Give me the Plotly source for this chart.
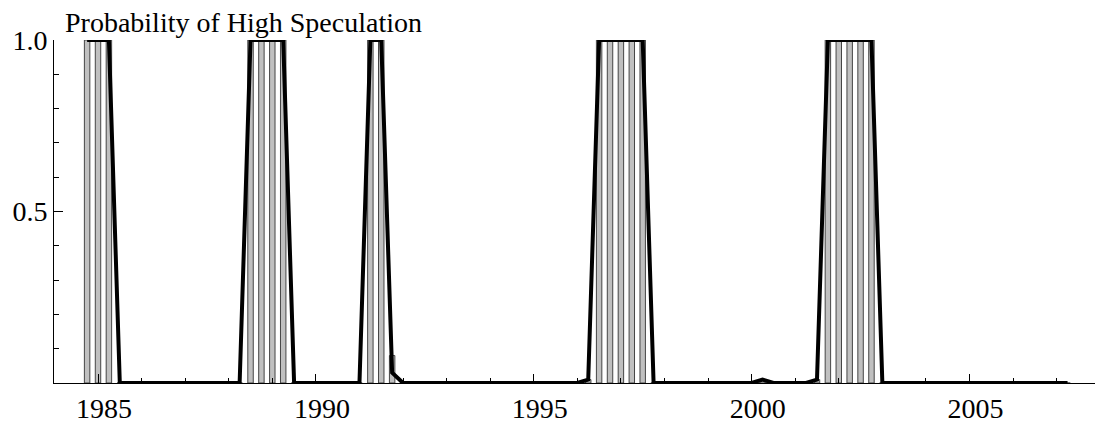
import plotly.graph_objects as go

# Quarterly dates (decimal years), 1984.75 .. 2007.25
quarters = [1984.75 + 0.25 * i for i in range(91)]

# Probability of the high-speculation regime (line)
prob_line = [
    1, 1, 1,                                  # 1984.75 - 1985.25
    0, 0, 0, 0, 0, 0, 0, 0, 0, 0, 0, 0,        # 1985.5 - 1988.25
    1, 1, 1, 1,                               # 1988.5 - 1989.25
    0, 0, 0, 0, 0, 0, 0,                      # 1989.5 - 1991.0
    1, 1, 0.03,                               # 1991.25 - 1991.75
    0, 0, 0, 0, 0, 0, 0, 0, 0, 0, 0, 0, 0, 0, 0, 0, 0,  # 1992.0 - 1996.0
    0.01,                                     # 1996.25
    1, 1, 1, 1, 1,                            # 1996.5 - 1997.5
    0, 0, 0, 0, 0, 0, 0, 0, 0, 0,             # 1997.75 - 2000.0
    0.01,                                     # 2000.25
    0, 0, 0, 0,                               # 2000.5 - 2001.25
    0.01,                                     # 2001.5
    1, 1, 1, 1, 1,                            # 2001.75 - 2002.75
    0, 0, 0, 0, 0, 0, 0, 0, 0, 0, 0, 0, 0, 0, 0, 0, 0, 0,  # 2003.0 - 2007.25
]

# Bar heights (same quarters)
prob_bar = [
    1, 1, 1,
    0, 0, 0, 0, 0, 0, 0, 0, 0, 0, 0, 0,
    1, 1, 1, 1,
    0, 0, 0, 0, 0, 0, 0,
    1, 1, 0.08,
    0, 0, 0, 0, 0, 0, 0, 0, 0, 0, 0, 0, 0, 0, 0, 0, 0,
    0.01,
    1, 1, 1, 1, 1,
    0, 0, 0, 0, 0, 0, 0, 0, 0, 0,
    0.01,
    0, 0, 0, 0,
    0.01,
    1, 1, 1, 1, 1,
    0, 0, 0, 0, 0, 0, 0, 0, 0, 0, 0, 0, 0, 0, 0, 0, 0, 0,
]

x_tickvals = [1985, 1990, 1995, 2000, 2005]
x_ticktext = ["1985", "1990", "1995", "2000", "2005"]
y_tickvals = [0.5, 1.0]
y_ticktext = ["0.5", "1.0"]
title_text = "Probability of High Speculation"

FONT = "Liberation Serif"
FS = 28

fig = go.Figure()
fig.add_trace(go.Bar(
    x=quarters, y=prob_bar, width=0.125,
    marker=dict(color="#c0c0c0", line=dict(color="#454545", width=1)),
    hoverinfo="skip",
))
fig.add_trace(go.Scatter(
    x=quarters, y=prob_line, mode="lines",
    line=dict(color="black", width=4),
    cliponaxis=False,
))

fig.update_layout(
    width=1095, height=424,
    margin=dict(l=54, r=0, t=40, b=41),
    paper_bgcolor="white", plot_bgcolor="white",
    showlegend=False,
    font=dict(family=FONT, size=FS, color="black"),
    annotations=[dict(
        text=title_text, xref="paper", yref="paper",
        x=0, y=1, xanchor="left", yanchor="bottom",
        xshift=9, yshift=0, showarrow=False,
        font=dict(family=FONT, size=FS, color="black"),
    )],
)
fig.update_xaxes(
    range=[1983.99, 2007.88], automargin=False,
    showgrid=False, zeroline=False,
    showline=True, linecolor="black", linewidth=1,
    tickmode="array", tickvals=x_tickvals, ticktext=x_ticktext,
    ticks="inside", ticklen=9, tickcolor="black", tickwidth=1,
    minor=dict(ticks="inside", ticklen=5, tickcolor="black", tick0=1984, dtick=1),
    ticklabelshift=6,
    tickfont=dict(family=FONT, size=FS),
)
fig.update_yaxes(
    range=[0, 1], automargin=False,
    showgrid=False, zeroline=False,
    showline=True, linecolor="black", linewidth=1,
    tickmode="array", tickvals=y_tickvals, ticktext=y_ticktext,
    ticks="inside", ticklen=9, tickcolor="black", tickwidth=1,
    minor=dict(ticks="inside", ticklen=5, tickcolor="black", tick0=0, dtick=0.1),
    tickfont=dict(family=FONT, size=FS),
)

fig.write_html(
    "out.html",
    config={"displayModeBar": False},
    post_script="document.body.style.margin='0px';document.body.style.padding='0px';document.body.style.overflow='hidden';",
)
